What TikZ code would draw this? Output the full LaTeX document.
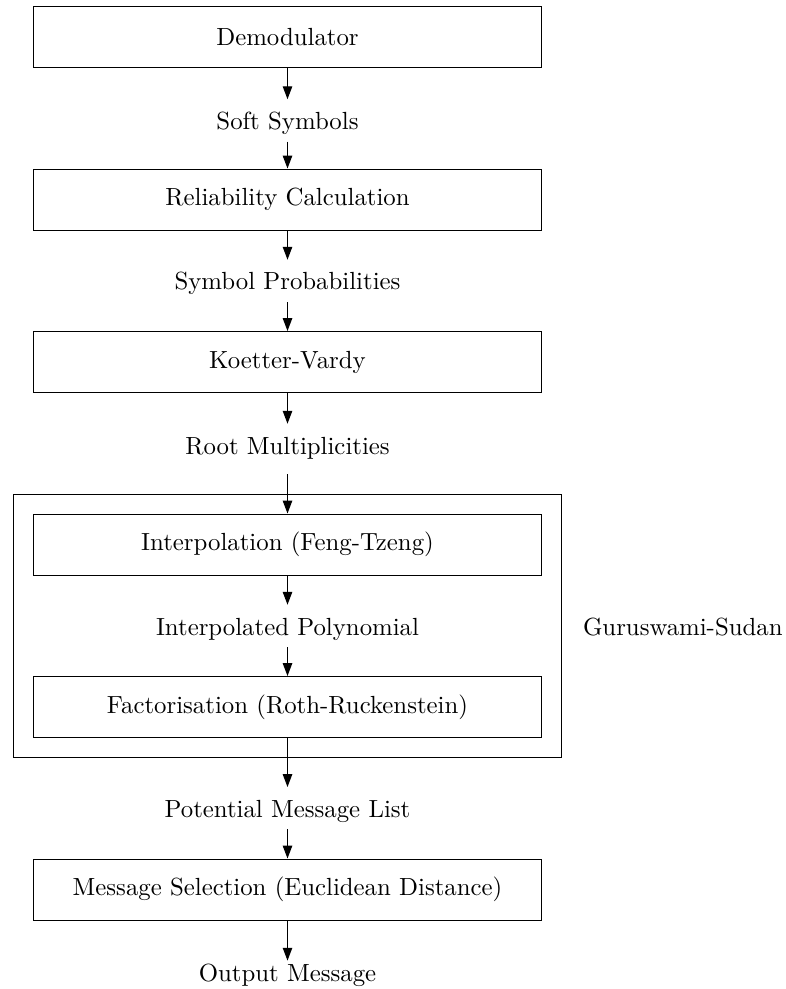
\documentclass[tikz,border=0pt]{standalone}
\usetikzlibrary{arrows.meta}
\begin{document}
\begin{tikzpicture}[x=0.4032pt, y=-0.4032pt,
  every path/.style={line width=0.4pt},
  blk/.style={draw, rectangle, line width=0.45pt, minimum width=205pt, minimum height=24.6pt, inner sep=0pt},
  lbl/.style={inner sep=0pt, text height=12pt, text depth=4.7pt, anchor=base},
  arr/.style={line width=0.5pt, -{Triangle[length=5.2pt, width=3.8pt]}}]
\useasboundingbox (0,0) rectangle (785,989);
% main blocks
\node[blk] (demod) at (287.5,37.1) {Demodulator};
\node[lbl] (soft) at (287.5,129.5) {Soft Symbols};
\node[blk] (rel) at (287.5,199.6) {Reliability Calculation};
\node[lbl] (prob) at (287.5,290) {Symbol Probabilities};
\node[blk] (kv) at (287.5,362.1) {Koetter-Vardy};
\node[lbl] (root) at (287.5,454) {Root Multiplicities};
\node[blk] (interp) at (287.5,544.6) {Interpolation (Feng-Tzeng)};
\node[lbl] (ipoly) at (287.5,635) {Interpolated Polynomial};
\node[blk] (fact) at (287.5,707.1) {Factorisation (Roth-Ruckenstein)};
\node[lbl] (plist) at (287.5,817.3) {Potential Message List};
\node[blk] (sel) at (287.5,889.6) {Message Selection (Euclidean Distance)};
\node[lbl] (out) at (287.5,981) {Output Message};
% outer group
\node[draw, rectangle, line width=0.45pt, inner sep=0pt, minimum width=221.1pt, minimum height=106.2pt] (gs) at (287.5,626) {};
\node[inner sep=0pt, anchor=base west] (gslbl) at (582.5,635) {Guruswami-Sudan};
% connectors
\draw[arr] (demod.south) -- (soft.north);
\draw[arr] (soft.south) -- (rel.north);
\draw[arr] (rel.south) -- (prob.north);
\draw[arr] (prob.south) -- (kv.north);
\draw[arr] (kv.south) -- (root.north);
\draw[arr, shorten <=3.2pt] (root.south) -- (interp.north);
\draw[arr] (interp.south) -- (ipoly.north);
\draw[arr] (ipoly.south) -- (fact.north);
\draw[arr] (fact.south) -- (plist.north);
\draw[arr] (plist.south) -- (sel.north);
\draw[arr, shorten >=-4pt] (sel.south) -- (out.north);
\end{tikzpicture}
\end{document}
